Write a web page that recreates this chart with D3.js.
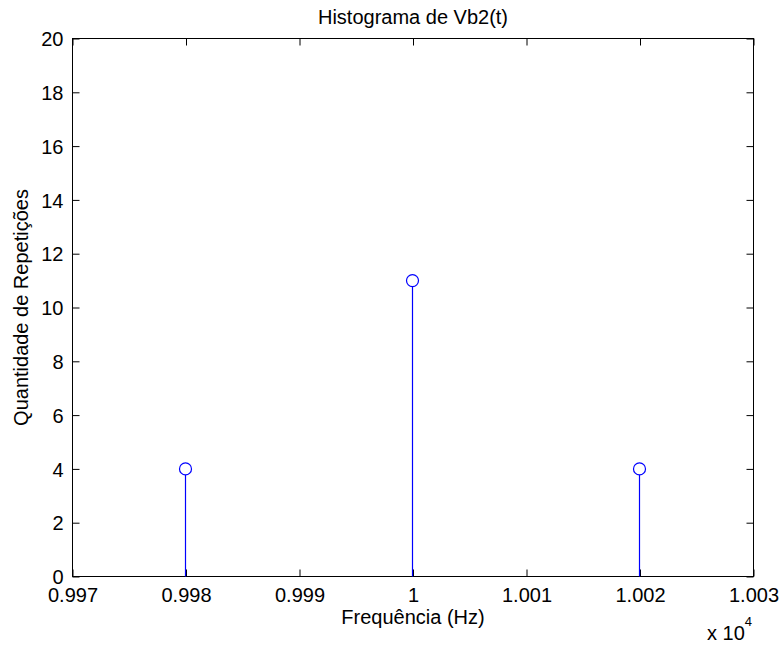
<!DOCTYPE html>
<html>
<head>
<meta charset="utf-8">
<script src="https://cdn.jsdelivr.net/npm/d3@7"></script>
<style>
  body { margin: 0; background: #fff; }
  svg { display: block; }
  text { font-family: "Liberation Sans", Arial, sans-serif; font-size: 20px; fill: #000; }
</style>
</head>
<body>
<svg id="chart" width="780" height="645"></svg>
<script>
// Stem data: frequency bins (Hz) and repetition counts
const frequencies = [9980, 10000, 10020];
const counts = [4, 11, 4];
const xTicks = [9970, 9980, 9990, 10000, 10010, 10020, 10030];
const xTickLabels = ["0.997", "0.998", "0.999", "1", "1.001", "1.002", "1.003"];
const yTicks = [0, 2, 4, 6, 8, 10, 12, 14, 16, 18, 20];

const FONT = "'Liberation Sans', Arial, sans-serif";
const svg = d3.select("#chart");
const plotLeft = 72.5, plotRight = 753.5, plotTop = 38.5, plotBottom = 576.5;

const x = d3.scaleLinear().domain([9970, 10030]).range([plotLeft, plotRight]);
const y = d3.scaleLinear().domain([0, 20]).range([plotBottom, plotTop]);

const tickLen = 7;

// bottom axis, ticks pointing inward
const xAxis = d3.axisBottom(x).tickValues(xTicks)
  .tickFormat((d, i) => xTickLabels[i]).tickSizeInner(-tickLen).tickSizeOuter(0);
const gx = svg.append("g").attr("transform", `translate(0,${plotBottom})`).call(xAxis);
gx.select(".domain").remove();
gx.selectAll("text").attr("y", 25).attr("dy", null);

// top axis ticks
const gxt = svg.append("g").attr("transform", `translate(0,${plotTop})`)
  .call(d3.axisTop(x).tickValues(xTicks).tickSizeInner(-tickLen).tickSizeOuter(0).tickFormat(""));
gxt.select(".domain").remove();

// left axis
const gy = svg.append("g").attr("transform", `translate(${plotLeft},0)`)
  .call(d3.axisLeft(y).tickValues(yTicks).tickSizeInner(-tickLen).tickSizeOuter(0));
gy.select(".domain").remove();
gy.selectAll("text").attr("x", -9).attr("dy", "0.36em");

// right axis ticks
const gyr = svg.append("g").attr("transform", `translate(${plotRight},0)`)
  .call(d3.axisRight(y).tickValues(yTicks).tickSizeInner(-tickLen).tickSizeOuter(0).tickFormat(""));
gyr.select(".domain").remove();

svg.selectAll(".tick line").attr("stroke", "#000");
svg.selectAll(".tick text").style("font-size", "20px").style("font-family", FONT).attr("fill", "#000");

// plot frame
svg.append("rect").attr("x", plotLeft).attr("y", plotTop)
  .attr("width", plotRight - plotLeft).attr("height", plotBottom - plotTop)
  .attr("fill", "none").attr("stroke", "#000").attr("stroke-width", 1);

// stems with open circle markers
const data = frequencies.map((f, i) => ({ f, c: counts[i] }));
const stems = svg.append("g").attr("class", "stems");
stems.selectAll("line").data(data).join("line")
  .attr("x1", d => x(d.f) - 0.5).attr("x2", d => x(d.f) - 0.5)
  .attr("y1", y(0)).attr("y2", d => y(d.c) + 6)
  .style("stroke", "#0000ff").attr("stroke-width", 1.2);

stems.selectAll("circle").data(data).join("circle")
  .attr("cx", d => x(d.f) - 0.5).attr("cy", d => y(d.c))
  .attr("r", 6).attr("fill", "none").style("stroke", "#0000ff").attr("stroke-width", 1.2);

// title and axis labels
svg.append("text").attr("x", (plotLeft + plotRight) / 2).attr("y", 24)
  .attr("text-anchor", "middle").text("Histograma de Vb2(t)");
svg.append("text").attr("x", (plotLeft + plotRight) / 2).attr("y", 624)
  .attr("text-anchor", "middle").text("Frequência (Hz)");
svg.append("text").attr("transform", `translate(28,${(plotTop + plotBottom) / 2}) rotate(-90)`)
  .attr("text-anchor", "middle").text("Quantidade de Repetições");

// exponent multiplier
const mult = svg.append("text").attr("x", 707).attr("y", 640);
mult.append("tspan").text("x 10");
mult.append("tspan").attr("dy", -14).style("font-size", "13px").text("4");
</script>
</body>
</html>
